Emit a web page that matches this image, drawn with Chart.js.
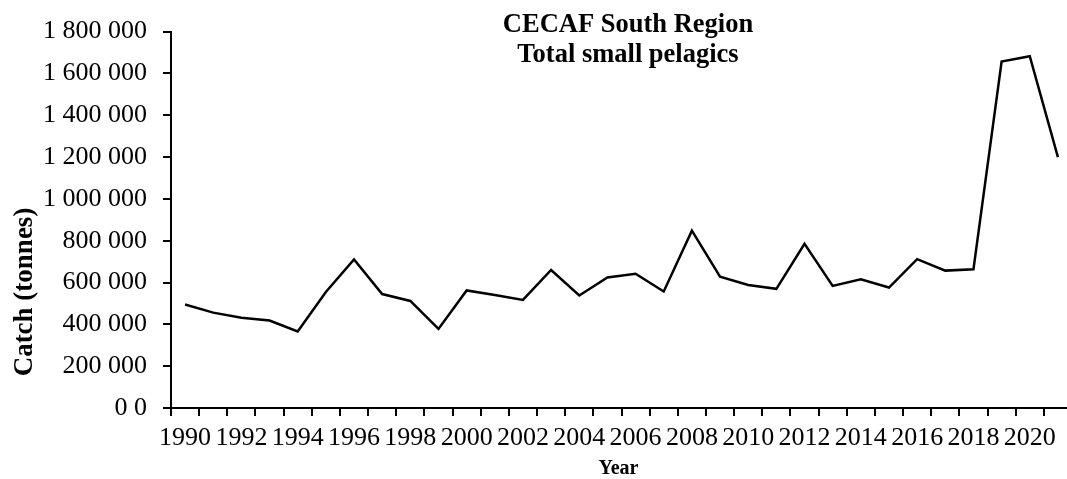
<!DOCTYPE html>
<html>
<head>
<meta charset="utf-8">
<script src="https://cdn.jsdelivr.net/npm/chart.js@4.4.1/dist/chart.umd.min.js"></script>
<style>
  html, body { margin: 0; padding: 0; background: #fff; overflow: hidden; }
  #wrap { width: 1067px; height: 479px; overflow: hidden; }
</style>
</head>
<body>
<div id="wrap"><canvas id="myChart" width="1080" height="479"></canvas></div>
<script>
// data
const years = [
  "1990", "1991", "1992", "1993", "1994", "1995", "1996", "1997",
  "1998", "1999", "2000", "2001", "2002", "2003", "2004", "2005",
  "2006", "2007", "2008", "2009", "2010", "2011", "2012", "2013",
  "2014", "2015", "2016", "2017", "2018", "2019", "2020", "2021",
];
const catches = [
  495000, 456000, 432000, 418000, 366000, 555000, 710000, 545000,
  512000, 378000, 562000, 540000, 517000, 660000, 538000, 624000,
  642000, 557000, 848000, 628000, 588000, 570000, 785000, 584000,
  616000, 576000, 712000, 657000, 663000, 1657000, 1682000, 1200000,
];
const yMin = 0;
const yMax = 1800000;
const yStep = 200000;
const chartTitle = ["CECAF South Region", "Total small pelagics"];
const xTitle = "Year";
const yTitle = "Catch (tonnes)";

const serif = "'Liberation Serif', 'Times New Roman', serif";

function spaced(v) {
  // the source shows the zero tick as "0 0"
  if (v === 0) return "0 0";
  return String(v).replace(/\B(?=(\d{3})+(?!\d))/g, " ");
}

// titles sit inside the plot, so they are drawn by hand
const textPlugin = {
  id: "textPlugin",
  afterDraw(chart) {
    const ctx = chart.ctx;
    const area = chart.chartArea;
    ctx.save();
    ctx.fillStyle = "#000";
    ctx.textAlign = "center";
    ctx.textBaseline = "alphabetic";
    ctx.font = "bold 26.5px " + serif;
    ctx.fillText(chartTitle[0], 628, 32);
    ctx.fillText(chartTitle[1], 628, 62);

    ctx.font = "bold 20px " + serif;
    ctx.fillText(xTitle, (area.left + area.right) / 2 - 3, 474);

    ctx.translate(32, 292);
    ctx.rotate(-Math.PI / 2);
    ctx.font = "bold 27px " + serif;
    ctx.fillText(yTitle, 0, 0);
    ctx.restore();
  },
};

var ctx = document.getElementById("myChart").getContext("2d");
var myChart = new Chart(ctx, {
  type: "line",
  data: {
    labels: years,
    datasets: [
      {
        data: catches,
        borderColor: "#000",
        borderWidth: 2.5,
        pointRadius: 0,
        tension: 0,
        fill: false,
      },
    ],
  },
  options: {
    responsive: false,
    animation: false,
    layout: { padding: { top: 24, right: 8, left: 0, bottom: 0 } },
    plugins: {
      legend: { display: false },
      tooltip: { enabled: false },
    },
    scales: {
      x: {
        type: "category",
        offset: true,
        grid: {
          offset: true,
          drawOnChartArea: false,
          drawTicks: true,
          tickLength: 8,
          color: "#000",
          lineWidth: 2,
        },
        border: { display: true, color: "#000", width: 2 },
        ticks: {
          autoSkip: false,
          maxRotation: 0,
          padding: 7,
          color: "#000",
          font: { family: serif, size: 26 },
          callback: function (value, index) {
            return index % 2 === 0 ? this.getLabelForValue(value) : "";
          },
        },
        afterFit(scale) {
          scale.height = 71;
        },
      },
      y: {
        min: yMin,
        max: yMax,
        grid: {
          drawOnChartArea: false,
          drawTicks: true,
          tickLength: 8,
          color: "#000",
          lineWidth: 2,
        },
        border: { display: true, color: "#000", width: 2 },
        ticks: {
          stepSize: yStep,
          padding: 16,
          color: "#000",
          font: { family: serif, size: 26 },
          callback: (v) => spaced(v),
        },
        afterFit(scale) {
          scale.width = 171;
        },
      },
    },
  },
  plugins: [textPlugin],
});
</script>
</body>
</html>
